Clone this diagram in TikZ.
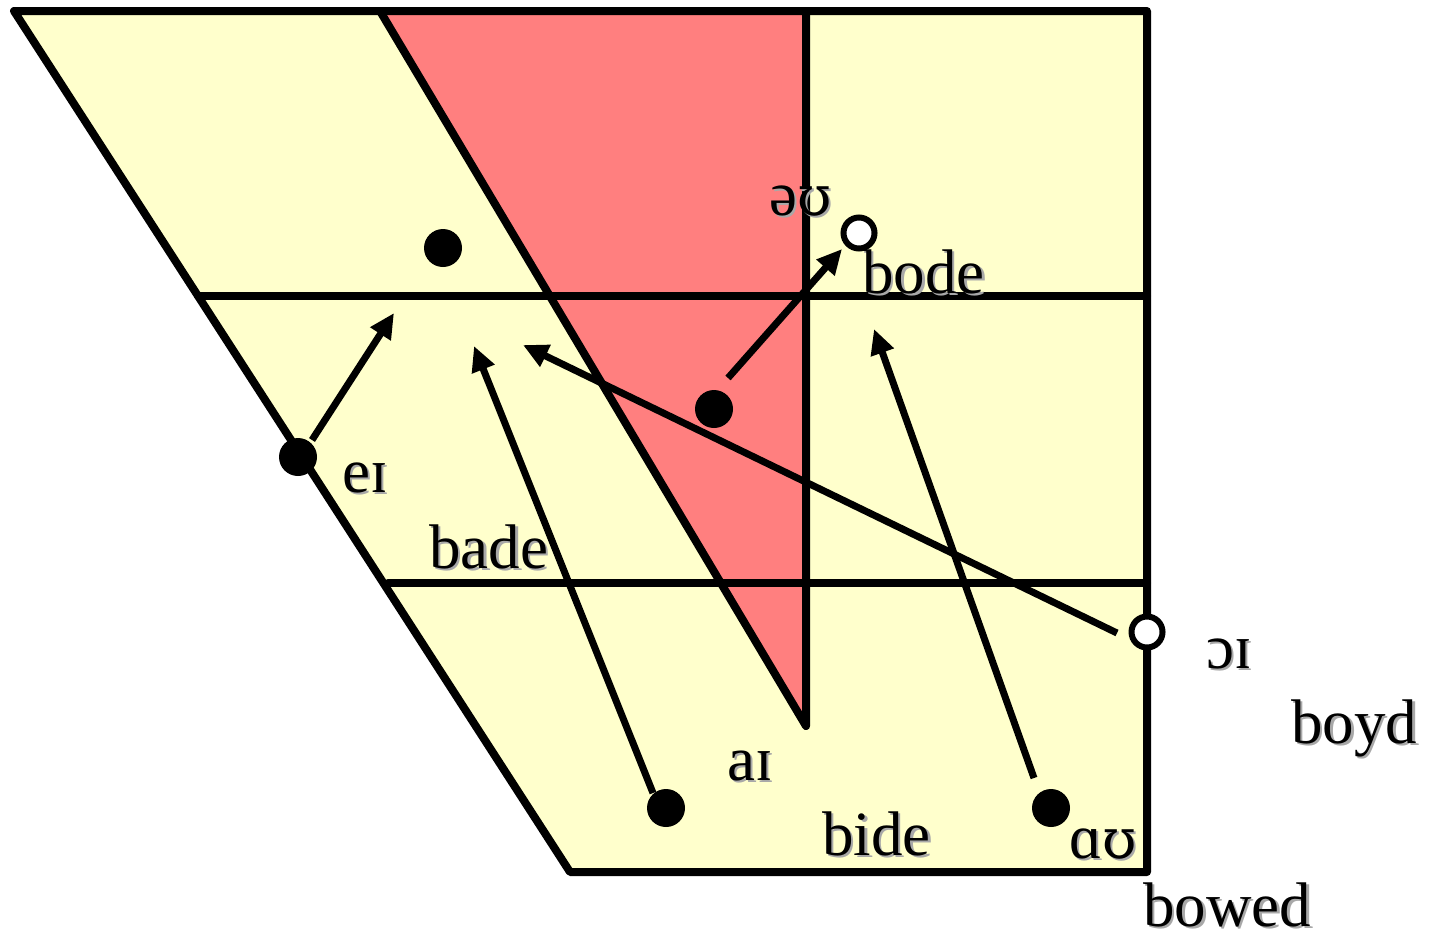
\documentclass[tikz,border=0pt]{standalone}
\usepackage{fontspec}
\setmainfont{Liberation Serif}
\newfontfamily\ipafont{DejaVu Serif}[Scale=0.88]
\usetikzlibrary{arrows.meta}
\definecolor{vyellow}{HTML}{FFFFCC}
\definecolor{vred}{HTML}{FF7F7F}
\definecolor{shadegray}{HTML}{A8A8A8}
\newcommand\shadowed[1]{\makebox[0pt][l]{\hspace{2.5pt}\raisebox{-2.5pt}{\textcolor{shadegray}{#1}}}#1}
\newcommand\upsi{{\ipafont ʊ}}
\begin{document}
\begin{tikzpicture}[x=1pt,y=-1pt,
  border/.style={line width=8pt, line join=round, line cap=round},
  arr/.style={line width=7pt, -{Triangle[length=25pt,width=23pt]}},
  dot/.style={circle, fill=black, inner sep=0pt, minimum size=38pt},
  odot/.style={circle, draw=black, fill=white, line width=6pt, inner sep=0pt, minimum size=31pt},
  lbl/.style={anchor=base west, inner sep=0pt, font=\fontsize{63}{63}\selectfont}]
\useasboundingbox (0,0) rectangle (1431,943);
% regions
\fill[vyellow] (14,11) -- (1147,11) -- (1147,872) -- (570,872) -- cycle;
\fill[vred] (380,11) -- (806,11) -- (806,726) -- cycle;
% outline and grid
\draw[border] (14,11) -- (1147,11) -- (1147,872) -- (570,872) -- cycle;
\draw[border] (198,296) -- (1147,296);
\draw[border] (388,583) -- (1147,583);
\draw[border] (380,11) -- (806,726) -- (806,11);
% arrow end coordinates
\coordinate (eiT) at (312,440);   \coordinate (eiH) at (394,313);
\coordinate (aiT) at (653,793);   \coordinate (aiH) at (474,346);
\coordinate (oiT) at (1117,633);  \coordinate (oiH) at (523,345);
\coordinate (ouT) at (728,378);   \coordinate (ouH) at (842,249);
\coordinate (auT) at (1034,778);  \coordinate (auH) at (874,329);
\draw[arr] (eiT) -- (eiH);
\draw[arr] (aiT) -- (aiH);
\draw[arr] (oiT) -- (oiH);
\draw[arr] (ouT) -- (ouH);
\draw[arr] (auT) -- (auH);
% dots
\node[dot] (d1) at (443,248) {};
\node[dot] (ei) at (298,457) {};
\node[dot] (d2) at (714,409) {};
\node[dot] (ai) at (666,808) {};
\node[dot] (au) at (1051,808) {};
\node[odot] (ou) at (859,233) {};
\node[odot] (oi) at (1147,632) {};
% labels
\node[lbl] (lou) at (769,215) {\shadowed{ə\upsi}};
\node[lbl] (lbode) at (862,293) {\shadowed{bode}};
\node[lbl] (lei) at (342,492) {\shadowed{eɪ}};
\node[lbl] (lbade) at (429,568) {\shadowed{bade}};
\node[lbl] (loi) at (1206,668) {\shadowed{ɔɪ}};
\node[lbl] (lboyd) at (1291,743) {\shadowed{boyd}};
\node[lbl] (lai) at (727,780) {\shadowed{aɪ}};
\node[lbl] (lbide) at (822,855) {\shadowed{bide}};
\node[lbl] (lau) at (1069,858) {\shadowed{ɑ\upsi}};
\node[lbl] (lbowed) at (1143,926) {\shadowed{bowed}};
\end{tikzpicture}
\end{document}
